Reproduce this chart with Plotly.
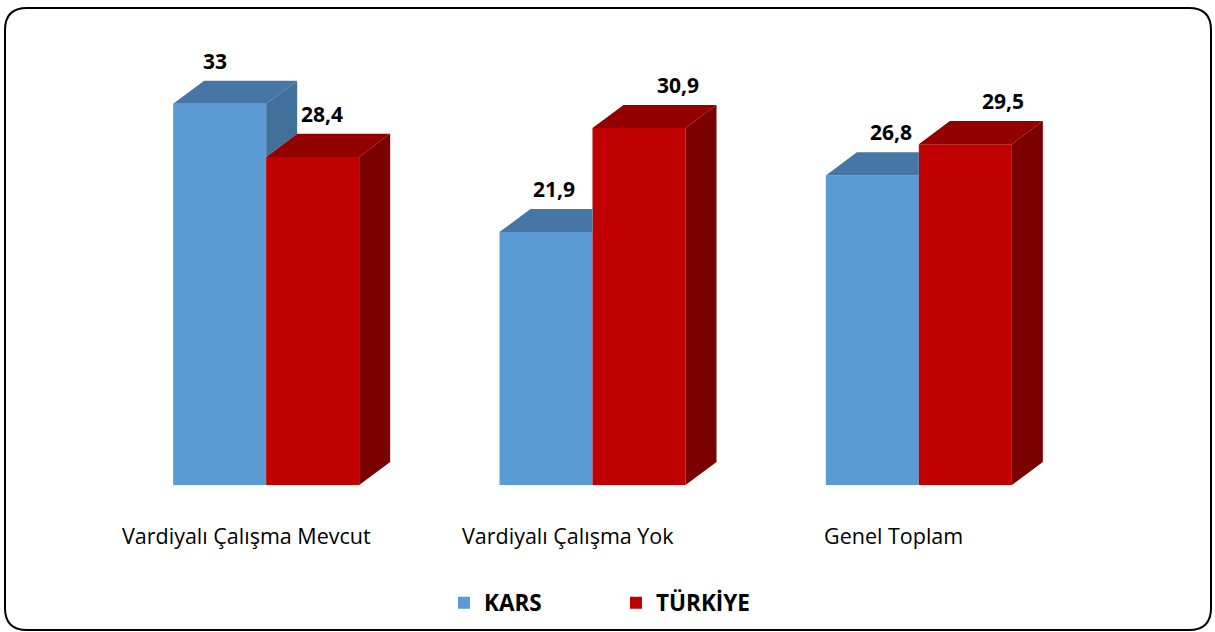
import plotly.graph_objects as go

# ---------------- data ----------------
categories = ["Vardiyalı Çalışma Mevcut", "Vardiyalı Çalışma Yok", "Genel Toplam"]
series_names = ["KARS", "TÜRKİYE"]
kars = [33, 21.9, 26.8]
turkiye = [28.4, 30.9, 29.5]
kars_text = ["33", "21,9", "26,8"]
turkiye_text = ["28,4", "30,9", "29,5"]

# ---------------- style ----------------
W, H = 1215, 632
ML, MR, MT, MB = 103, 133, 46, 147
YMAX = 38
BAR_W = 0.285      # bar width in category units
DX = 0.095         # 3D depth, x (category units)
DY = 2.0           # 3D depth, y (value units)

KARS_FRONT, KARS_TOP, KARS_SIDE = "#5B9BD5", "#4677A4", "#41709B"
TR_FRONT, TR_TOP, TR_SIDE = "#C00000", "#920000", "#7B0000"

FONT = "Open Sans"
kars_lbl_shift = [-5, 8, 19]
tr_lbl_shift = [9, 39, 38]
cat_lbl_shift = [-20, -25, -25]

xc = list(range(len(categories)))

fig = go.Figure()
fig.add_trace(go.Bar(x=xc, y=kars, width=BAR_W, offset=-BAR_W, name=series_names[0],
                     marker=dict(color=KARS_FRONT, line=dict(width=0)), hoverinfo="skip"))
fig.add_trace(go.Bar(x=xc, y=turkiye, width=BAR_W, offset=0, name=series_names[1],
                     marker=dict(color=TR_FRONT, line=dict(width=0)), hoverinfo="skip"))


def poly_trace(polys, color):
    xs, ys = [], []
    for p in polys:
        for (a, b) in p + [p[0]]:
            xs.append(a)
            ys.append(b)
        xs.append(None)
        ys.append(None)
    return go.Scatter(x=xs, y=ys, mode="lines", fill="toself", fillcolor=color,
                      line=dict(width=0, color=color), hoverinfo="skip", showlegend=False)


k_top, k_side, t_top, t_side = [], [], [], []
for i, (k, t) in enumerate(zip(kars, turkiye)):
    xl, xm, xr = i - BAR_W, i, i + BAR_W
    if k >= t:
        k_top.append([(xl, k), (xm, k), (xm + DX, k + DY), (xl + DX, k + DY)])
        k_side.append([(xm, t), (xm, k), (xm + DX, k + DY), (xm + DX, t + DY)])
    else:
        k_top.append([(xl, k), (xm, k), (xm, k + DY), (xl + DX, k + DY)])
    t_top.append([(xm, t), (xr, t), (xr + DX, t + DY), (xm + DX, t + DY)])
    t_side.append([(xr, 0), (xr, t), (xr + DX, t + DY), (xr + DX, DY)])

fig.add_trace(poly_trace(k_top, KARS_TOP))
if k_side:
    fig.add_trace(poly_trace(k_side, KARS_SIDE))
fig.add_trace(poly_trace(t_top, TR_TOP))
fig.add_trace(poly_trace(t_side, TR_SIDE))

ann = []
for i in xc:
    ann.append(dict(x=i - BAR_W / 2, y=kars[i] + DY, text=kars_text[i], showarrow=False,
                    xanchor="center", yanchor="middle", yshift=20, xshift=kars_lbl_shift[i],
                    font=dict(family=FONT, size=21, color="black", weight="bold")))
    ann.append(dict(x=i + BAR_W / 2, y=turkiye[i] + DY, text=turkiye_text[i], showarrow=False,
                    xanchor="center", yanchor="middle", yshift=20, xshift=tr_lbl_shift[i],
                    font=dict(family=FONT, size=21, color="black", weight="bold")))
    ann.append(dict(x=i, y=0, text=categories[i], showarrow=False,
                    xanchor="center", yanchor="middle", yshift=-50, xshift=cat_lbl_shift[i],
                    font=dict(family=FONT, size=21.5, color="black")))

# rounded border in paper coords
pw, ph = W - ML - MR, H - MT - MB


def px(x):
    return (x - ML) / pw


def py(y):
    return (H - MB - y) / ph


L, R, T, B, RAD = 5, 1211, 8, 630, 22
path = (f"M {px(L + RAD)},{py(T)} L {px(R - RAD)},{py(T)} Q {px(R)},{py(T)} {px(R)},{py(T + RAD)} "
        f"L {px(R)},{py(B - RAD)} Q {px(R)},{py(B)} {px(R - RAD)},{py(B)} "
        f"L {px(L + RAD)},{py(B)} Q {px(L)},{py(B)} {px(L)},{py(B - RAD)} "
        f"L {px(L)},{py(T + RAD)} Q {px(L)},{py(T)} {px(L + RAD)},{py(T)} Z")

fig.update_layout(
    width=W, height=H,
    margin=dict(l=ML, r=MR, t=MT, b=MB, autoexpand=False),
    paper_bgcolor="white", plot_bgcolor="white",
    barmode="overlay",
    xaxis=dict(range=[-0.5, len(categories) - 0.5], showgrid=False, zeroline=False,
               showticklabels=False, showline=False, fixedrange=True),
    yaxis=dict(range=[0, YMAX], showgrid=False, zeroline=False, showticklabels=False,
               showline=False, fixedrange=True),
    annotations=ann,
    shapes=[dict(type="path", xref="paper", yref="paper", path=path,
                 line=dict(color="black", width=2), fillcolor="rgba(0,0,0,0)")],
    legend=dict(orientation="h", x=0.524, xanchor="center", y=-0.269, yanchor="middle",
                entrywidth=127, font=dict(family=FONT, size=22.5, color="black", weight="bold")),
    showlegend=True,
)

fig.write_html("out.html", config={"displayModeBar": False},
               post_script="document.body.style.margin='0';document.body.style.overflow='hidden';")
